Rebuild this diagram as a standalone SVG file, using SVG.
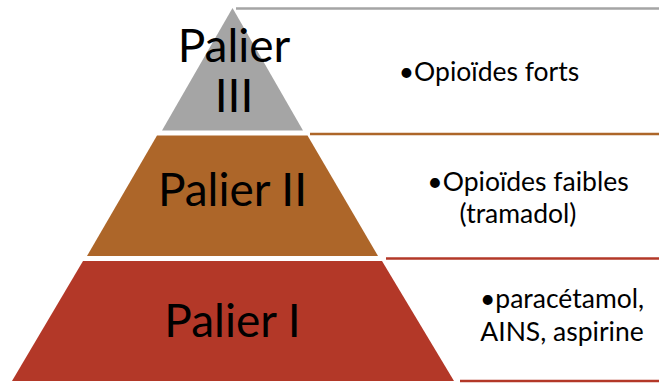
<svg xmlns="http://www.w3.org/2000/svg" width="659" height="383" viewBox="0 0 659 383">
<style>
.lvl{font-family:Lato,"Open Sans",sans-serif;font-size:46px;fill:#000;text-anchor:middle}
.desc{font-family:Lato,"Open Sans",sans-serif;font-size:26.5px;fill:#000;text-anchor:middle}
.g{fill:#A5A5A5}.b{fill:#AD6629}.r{fill:#B33828}
.lg{stroke:#A5A5A5;stroke-width:2.5}.lb{stroke:#AD6629;stroke-width:2.5}.lr{stroke:#B33828;stroke-width:2.5}
</style>
<rect width="659" height="383" fill="#fff"/>
<g id="connectors">
<line class="lg" x1="236" y1="8.5" x2="659" y2="8.5"/>
<line class="lb" x1="310" y1="134" x2="659" y2="134"/>
<line class="lr" x1="386" y1="258.5" x2="659" y2="258.5"/>
<line class="lr" x1="460" y1="381" x2="659" y2="381"/>
</g>
<g id="palier3">
<polygon class="g" points="232.5,8 303,130.5 162,130.5"/>
<text class="lvl" x="234" y="62">Palier</text>
<text class="lvl" x="234" y="112">III</text>
</g>
<g id="palier2">
<polygon class="b" points="157,135.5 307.5,135.5 378,256 87,256"/>
<text class="lvl" x="232.5" y="206">Palier II</text>
</g>
<g id="palier1">
<polygon class="r" points="83,261 382,261 454,381 12,381"/>
<text class="lvl" x="232.5" y="337">Palier I</text>
</g>
<g id="desc3">
<text class="desc" x="489" y="81">•Opioïdes forts</text>
</g>
<g id="desc2">
<text class="desc" x="528" y="191">•Opioïdes faibles</text>
<text class="desc" x="518" y="223">(tramadol)</text>
</g>
<g id="desc1">
<text class="desc" x="562" y="308">•paracétamol,</text>
<text class="desc" x="562" y="341">AINS, aspirine</text>
</g>
</svg>
